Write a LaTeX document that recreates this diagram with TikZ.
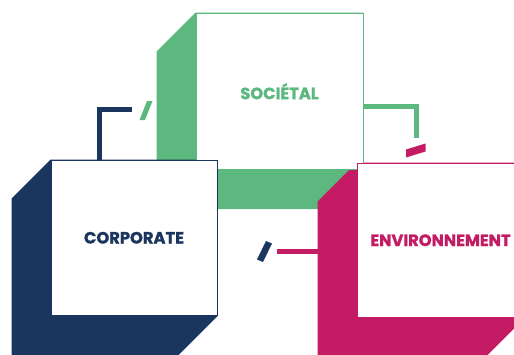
\documentclass[tikz,border=0pt]{standalone}
\usepackage{fontspec}
\setmainfont{Poppins}[BoldFeatures={FakeBold=1.3}]
\usetikzlibrary{backgrounds,calc}
\definecolor{socgreen}{HTML}{5DB87F}
\definecolor{corpnavy}{HTML}{1B365E}
\definecolor{envpink}{HTML}{C31C64}
\tikzset{
  face/.style={draw=#1, fill=white, line width=1pt, inner sep=0pt, text=#1,
    font=\fontsize{16.3}{17}\selectfont\bfseries},
  conn/.style={draw=#1, line width=5pt, line cap=butt, line join=miter},
  slash/.style={fill=#1},
}
\newcommand\extrudebox[2]{%
  \begin{pgfonlayer}{background}
    \fill[#2] (#1.north west) -- ++(-39,39) |- ($(#1.south east)+(-39,39)$)
      -- (#1.south east) -- (#1.north east) -- cycle;
  \end{pgfonlayer}}
\begin{document}
\begin{tikzpicture}[x=1pt,y=-1pt]
\useasboundingbox (0,0) rectangle (514,354);
% boxes
\node[face=socgreen, minimum width=167pt, minimum height=156.5pt] (soc) at (279.5,91.25) {SOCIÉTAL};
\extrudebox{soc}{socgreen}
\node[face=corpnavy, minimum width=166pt, minimum height=155.5pt] (corp) at (134,237.75) {CORPORATE};
\extrudebox{corp}{corpnavy}
\node[face=envpink, minimum width=167pt, minimum height=154.5pt] (env) at (440.5,240.25) {ENVIRONNEMENT};
\extrudebox{env}{envpink}
% connectors
\coordinate (navyEnd) at (132,109.5);
\draw[conn=corpnavy] ($(corp.north west)+(48.5,0)$) |- (navyEnd);
\coordinate (greenEnd) at (416,138);
\draw[conn=socgreen] ($(soc.north east)+(0,93.5)$) -| (greenEnd);
\coordinate (pinkStart) at (277,251.5);
\coordinate (envBack) at ($(env.north west)+(-39,39)$);
\draw[conn=envpink] (pinkStart) -- (pinkStart -| envBack);
% slashes
\fill[slash=socgreen] (147,101) -- (152.5,101) -- (145,120) -- (139.5,120) -- cycle;
\fill[slash=envpink] (406,149.5) -- (406,157.5) -- (425.5,151.5) -- (425.5,143.5) -- cycle;
\fill[slash=corpnavy] (266,241) -- (272,243.5) -- (263,262) -- (257,259.5) -- cycle;
\end{tikzpicture}
\end{document}
